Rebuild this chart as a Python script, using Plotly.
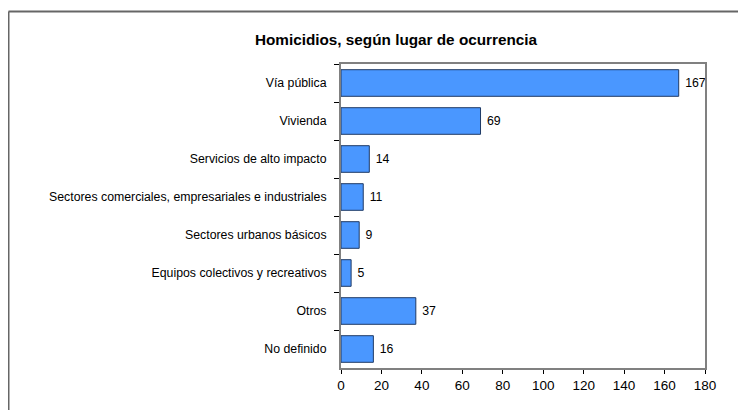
import plotly.graph_objects as go

categories = ["Vía pública", "Vivienda", "Servicios de alto impacto",
              "Sectores comerciales, empresariales e industriales",
              "Sectores urbanos básicos", "Equipos colectivos y recreativos",
              "Otros", "No definido"]
values = [167, 69, 14, 11, 9, 5, 37, 16]
x_ticks = [0, 20, 40, 60, 80, 100, 120, 140, 160, 180]
title = "Homicidios, según lugar de ocurrencia"

# page body has an 8px margin; figure sized to fill the rest of the window
W, H = 738, 402
L, R, T, B = 333, 41, 56, 42
pw, ph = W - L - R, H - T - B

fig = go.Figure(go.Bar(
    y=categories, x=values, orientation="h",
    marker=dict(color="#4a97ff", line=dict(color="#1f3a66", width=1)),
    text=[" " + str(v) for v in values], textposition="outside",
    textfont=dict(family="Liberation Sans, Arial", size=12.3, color="#000"),
    cliponaxis=False,
))

fig.update_layout(
    width=W, height=H,
    margin=dict(l=L, r=R, t=T, b=B),
    paper_bgcolor="white", plot_bgcolor="white",
    showlegend=False, bargap=0.3,
    font=dict(family="Liberation Sans, Arial", size=12.3, color="#000"),
    title=dict(text="<b>" + title + "</b>", x=(388 - L) / pw, xref="paper",
               xanchor="center", y=1 - 32 / H, yanchor="middle",
               font=dict(family="Liberation Sans, Arial", size=15.3, color="#000")),
    xaxis=dict(range=[0, 180], tickvals=x_ticks, ticks="outside", ticklen=4,
               tickcolor="#000", showgrid=False, zeroline=False,
               showline=True, linecolor="#808080", linewidth=2, mirror=True,
               tickfont=dict(size=13.5)),
    yaxis=dict(autorange="reversed", ticks="outside", ticklen=5,
               tickson="boundaries", tickcolor="#000", showgrid=False,
               showline=True, linecolor="#808080", linewidth=2, mirror=True,
               ticklabelstandoff=10, tickfont=dict(size=12.3)),
    shapes=[
        dict(type="line", xref="paper", yref="paper",
             x0=(0.5 - L) / pw, x1=(W + 5 - L) / pw,
             y0=(H - B - 3.5) / ph, y1=(H - B - 3.5) / ph,
             line=dict(color="#666", width=2)),
        dict(type="line", xref="paper", yref="paper",
             x0=(0.5 - L) / pw, x1=(0.5 - L) / pw,
             y0=(H - B - 3.5) / ph, y1=(H - B - H - 5) / ph,
             line=dict(color="#666", width=2)),
    ],
)

fig.write_html("out.html")
